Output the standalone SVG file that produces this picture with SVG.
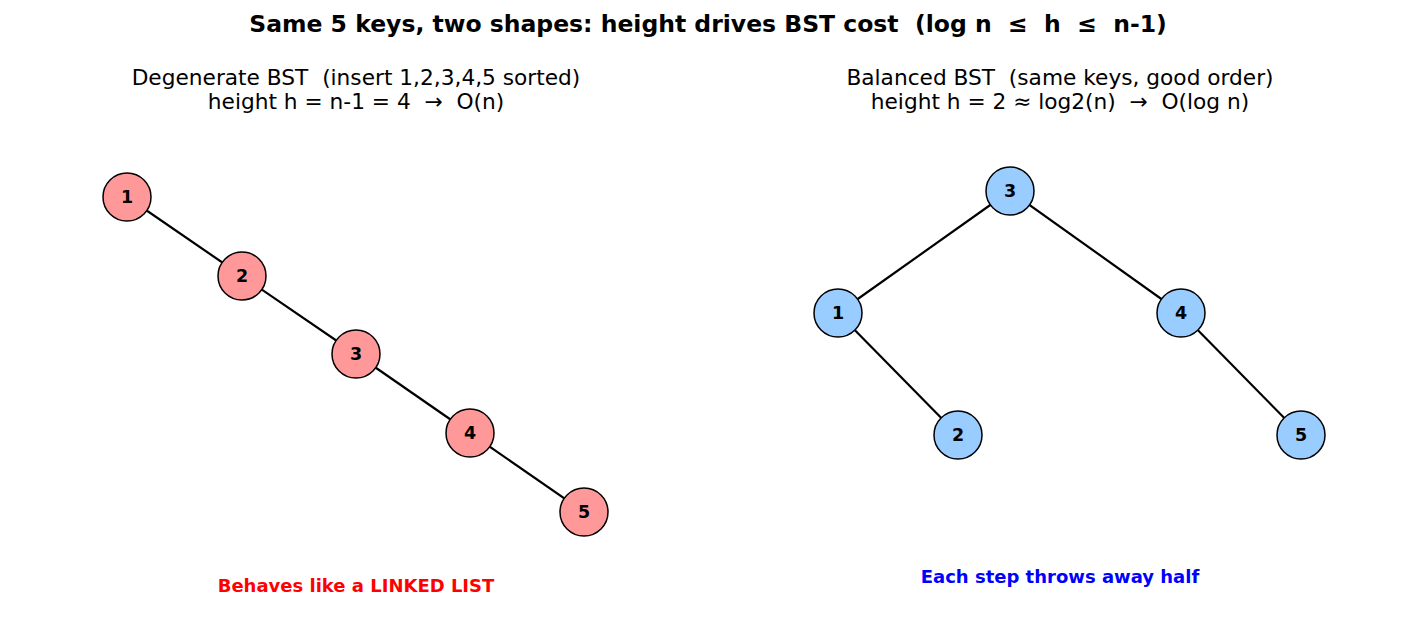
<svg xmlns="http://www.w3.org/2000/svg" width="1417" height="643" viewBox="0 0 1417 643">
<style>
text{font-family:"DejaVu Sans",sans-serif;text-anchor:middle;white-space:pre}
.title{font-size:23.5px;font-weight:bold}
.sub{font-size:21.7px}
.lbl{font-size:17.5px;font-weight:bold;dominant-baseline:central}
.red circle{fill:#ff9999;stroke:#000;stroke-width:1.5}
.blue circle{fill:#99ccff;stroke:#000;stroke-width:1.5}
.edges line{stroke:#000;stroke-width:2.2}
.note{font-size:18px;font-weight:bold}
</style>
<rect width="1417" height="643" fill="#fff"/>
<text class="title" x="708" y="32" xml:space="preserve">Same 5 keys, two shapes: height drives BST cost  (log n  ≤  h  ≤  n-1)</text>
<text class="sub" x="356" y="85" xml:space="preserve">Degenerate BST  (insert 1,2,3,4,5 sorted)</text>
<text class="sub" x="356" y="109" xml:space="preserve">height h = n-1 = 4  →  O(n)</text>
<text class="sub" x="1060" y="85" xml:space="preserve">Balanced BST  (same keys, good order)</text>
<text class="sub" x="1060" y="109" xml:space="preserve">height h = 2 ≈ log2(n)  →  O(log n)</text>
<g class="edges" id="connectors">
<line x1="127" y1="197" x2="242" y2="276"/>
<line x1="242" y1="276" x2="356" y2="354"/>
<line x1="356" y1="354" x2="470" y2="433"/>
<line x1="470" y1="433" x2="584" y2="512"/>
<line x1="1010" y1="191" x2="838" y2="313"/>
<line x1="1010" y1="191" x2="1181" y2="313"/>
<line x1="838" y1="313" x2="958" y2="435"/>
<line x1="1181" y1="313" x2="1301" y2="435"/>
</g>
<g class="red" id="L1"><circle cx="127" cy="197" r="24"/><text class="lbl" x="127" y="197">1</text></g>
<g class="red" id="L2"><circle cx="242" cy="276" r="24"/><text class="lbl" x="242" y="276">2</text></g>
<g class="red" id="L3"><circle cx="356" cy="354" r="24"/><text class="lbl" x="356" y="354">3</text></g>
<g class="red" id="L4"><circle cx="470" cy="433" r="24"/><text class="lbl" x="470" y="433">4</text></g>
<g class="red" id="L5"><circle cx="584" cy="512" r="24"/><text class="lbl" x="584" y="512">5</text></g>
<g class="blue" id="B3"><circle cx="1010" cy="191" r="24"/><text class="lbl" x="1010" y="191">3</text></g>
<g class="blue" id="B1"><circle cx="838" cy="313" r="24"/><text class="lbl" x="838" y="313">1</text></g>
<g class="blue" id="B4"><circle cx="1181" cy="313" r="24"/><text class="lbl" x="1181" y="313">4</text></g>
<g class="blue" id="B2"><circle cx="958" cy="435" r="24"/><text class="lbl" x="958" y="435">2</text></g>
<g class="blue" id="B5"><circle cx="1301" cy="435" r="24"/><text class="lbl" x="1301" y="435">5</text></g>
<text class="note" x="356" y="592" fill="#ff0000">Behaves like a LINKED LIST</text>
<text class="note" x="1060" y="583" fill="#0000ff">Each step throws away half</text>
</svg>
